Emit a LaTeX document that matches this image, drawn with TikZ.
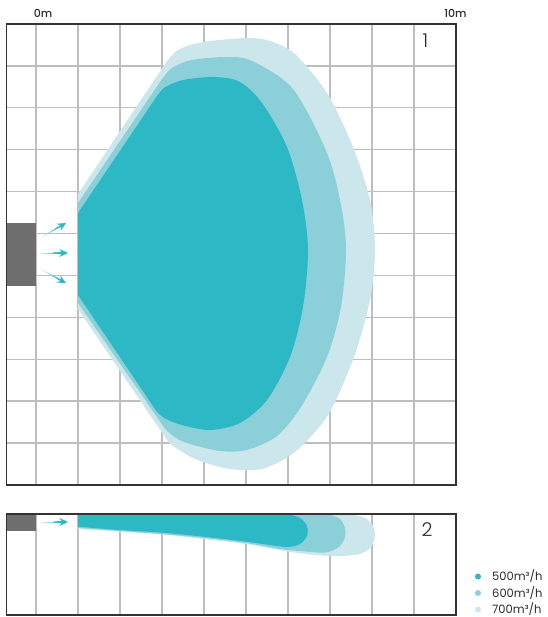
\documentclass[tikz,border=0pt]{standalone}
\usepackage{fontspec}
\setmainfont{Poppins}
\newfontfamily\plight{Poppins Light}
\newfontfamily\pmed{Poppins Medium}
\usetikzlibrary{arrows.meta,calc}
\definecolor{cdark}{HTML}{2CB8C5}
\definecolor{cmid}{HTML}{8BCFD8}
\definecolor{clight}{HTML}{CBE7EC}
\definecolor{cgrid}{HTML}{BEBEBE}
\definecolor{cframe}{HTML}{333333}
\definecolor{cdev}{HTML}{6E6E6E}
\definecolor{ctext}{HTML}{2B2B2B}
\newcommand\airflow[2]{%
  \foreach \i [evaluate=\i as \c using int(\i*11+12),
               evaluate=\i as \f using \i*0.085,
               evaluate=\i as \g using (\i+1)*0.085,
               evaluate=\i as \w using 0.3+\i*0.14] in {0,...,7}{%
    \draw[line width=\w pt, cdark!\c!white, line cap=round]
      ($(#1)!\f!(#2)$) -- ($(#1)!\g!(#2)$);}
  \draw[-{Stealth[length=8.5pt,width=8pt]}, cdark, line width=1.5pt]
      ($(#1)!0.66!(#2)$) -- (#2);}
\begin{document}
\begin{tikzpicture}[x=1pt,y=-1pt,
  gridline/.style={cgrid,line width=1.3pt},
  frameline/.style={cframe,line width=1.3pt},
  device/.style={fill=cdev,inner sep=0pt,minimum width=29.5pt},
  scalelbl/.style={text=ctext,font=\pmed\fontsize{11}{12}\selectfont},
  panellbl/.style={text=ctext,font=\plight\fontsize{19}{21}\selectfont},
  legendlbl/.style={text=ctext,font=\fontsize{11.5}{13}\selectfont,anchor=west,inner sep=0pt}
]
\useasboundingbox (0,0) rectangle (547,617);

% ---------- panel 1 grid
\foreach \k in {0,...,9} \draw[gridline] ({36+42*\k},24) -- ({36+42*\k},485);
\foreach \k in {1,...,10} \draw[gridline] (6.5,{24+41.9*\k}) -- (456,{24+41.9*\k});

% ---------- panel 1 plumes
\fill[clight] (78,194) -- (165,64) -- plot[smooth] coordinates {(165,64) (178,50) (203,42) (247,38) (270,41) (295,54) (327,93) (353,147) (370,200) (375,250) (370,300) (354,357) (328,415) (295,452) (262,469) (230,469) (200,461) (182,452) (169,443)} -- (78,309) -- cycle;
\fill[cmid] (78,203) -- (160,82) -- plot[smooth] coordinates {(160,82) (172,68) (192,60) (227,57) (252,61) (293,89) (327,153) (341,205) (346,250) (341,307) (327,357) (301,407) (277,436) (247,450) (220,451) (190,444) (176,438) (166,430)} -- (78,303) -- cycle;
\fill[cdark] (78,213) -- (155,99) -- plot[smooth] coordinates {(155,99) (164,88) (183,80) (215,77) (240,82) (262,103) (287,147) (302,200) (308,250) (303,307) (290,357) (267,400) (240,423) (210,430) (182,425) (166,419) (157,412)} -- (78,295) -- cycle;

% ---------- panel 1 device and arrows
\node[device,minimum height=63pt] (dev1) at (21.25,254.5) {};
\coordinate (a1s) at (40,238); \coordinate (a1e) at (66,223);
\coordinate (a2s) at (38,253); \coordinate (a2e) at (68,253);
\coordinate (a3s) at (40,269); \coordinate (a3e) at (66,283);
\airflow{a1s}{a1e}
\airflow{a2s}{a2e}
\airflow{a3s}{a3e}

\draw[frameline] (6.5,24) rectangle (456,485);

% ---------- panel 2 grid
\foreach \k in {0,...,9} \draw[gridline] ({36+42*\k},514) -- ({36+42*\k},615);

% ---------- panel 2 plumes
\fill[clight] (78,514) -- (350,514) -- plot[smooth] coordinates {(350,514) (365,518) (373,526) (375,535) (371,547) (360,554) (340,556) (315,555) (290,552)} -- plot[smooth] coordinates {(290,552) (246,544) (204,539) (162,534.5) (120,531.5) (78,529)} -- cycle;
\fill[cmid] (78,514) -- (328,514) -- plot[smooth] coordinates {(328,514) (340,519) (345,528) (345,537) (339,547) (325,552.5) (300,551) (280,549) (246,543) (204,538) (162,534) (120,531) (78,528)} -- cycle;
\fill[cdark] (78,514) -- (288,514) -- plot[smooth] coordinates {(288,514) (300,518) (307,526) (307,536) (300,544) (288,547) (270,545) (246,541.7) (204,536.7) (162,532.7) (120,530) (78,526.7)} -- cycle;

\node[device,minimum height=17pt] (dev2) at (21.25,522.5) {};
\coordinate (b1s) at (40,522); \coordinate (b1e) at (68,522);
\airflow{b1s}{b1e}

\draw[frameline] (6.5,514) rectangle (456,615);

% ---------- labels
\node[scalelbl] (l0) at (43,13) {0m};
\node[scalelbl] (l10) at (455.5,13) {10m};
\node[panellbl] (p1) at (425.5,41) {1};
\node[panellbl] (p2) at (427,530) {2};

% ---------- legend
\fill[cdark] (478,576.5) circle (3);
\fill[cmid] (478,593) circle (3);
\fill[clight] (478,609.5) circle (3);
\node[legendlbl] (g1) at (492,576.5) {500m³/h};
\node[legendlbl] (g2) at (492,593) {600m³/h};
\node[legendlbl] (g3) at (492,609.5) {700m³/h};
\end{tikzpicture}
\end{document}
